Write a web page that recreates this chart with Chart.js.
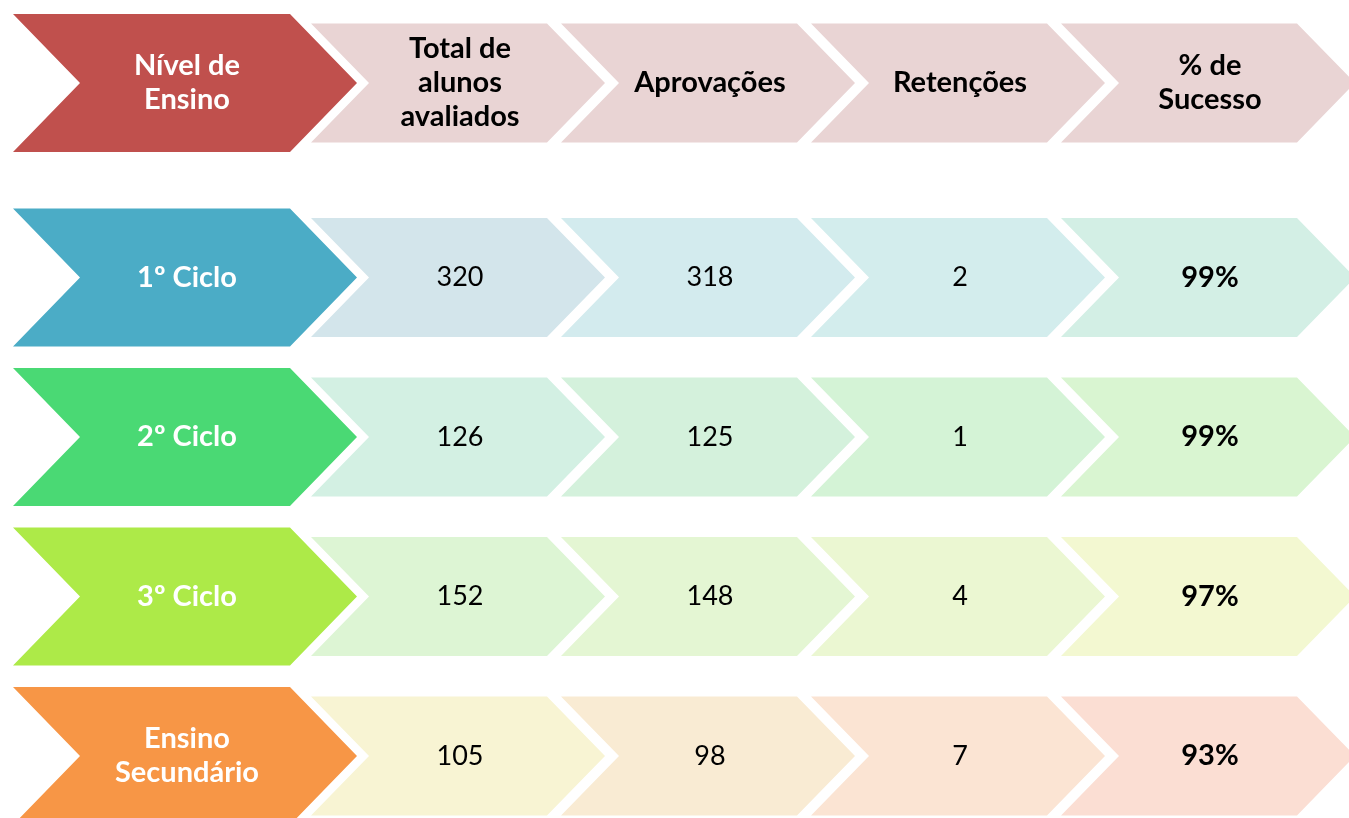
<!DOCTYPE html>
<html>
<head>
<meta charset="utf-8">
<script src="https://cdn.jsdelivr.net/npm/chart.js@4/dist/chart.umd.min.js"></script>
<style>
  html, body { margin: 0; padding: 0; background: #fff; }
  #wrap { width: 1349px; height: 818px; }
</style>
</head>
<body>
<div id="wrap"><canvas id="chevrons" width="1349" height="818"></canvas></div>
<script>
// Cabeçalhos das colunas (cada entrada = linhas de texto)
const headers = [
    ['Nível de', 'Ensino'],
    ['Total de', 'alunos', 'avaliados'],
    ['Aprovações'],
    ['Retenções'],
    ['% de', 'Sucesso']
];

// Níveis de ensino
const levels = [['1º Ciclo'], ['2º Ciclo'], ['3º Ciclo'], ['Ensino', 'Secundário']];

// Valores
const totals = [320, 126, 152, 105];
const approvals = [318, 125, 148, 98];
const retentions = [2, 1, 4, 7];
const successRate = [99, 99, 97, 93];

// Cores
const headerColor = '#C0504D';
const headerCellColor = '#E9D4D4';
const levelColors = ['#4BACC6', '#4AD974', '#ADEA48', '#F79646'];
const cellColors = [
    ['#D3E5EB', '#D3EBEE', '#D3EDED', '#D3EFE5'],
    ['#D3F0E3', '#D4F1DC', '#D4F3D6', '#D9F5D1'],
    ['#DDF5D4', '#E4F6D3', '#EBF7D2', '#F3F8D1'],
    ['#F8F4D3', '#F9EBD3', '#FBE4D3', '#FBDED3']
];

// Construção dos datasets: linha 0 = cabeçalho, linhas 1..4 = níveis
function buildDatasets() {
    const rows = [];
    rows.push({
        label: 'header',
        data: headers.map((h, c) => ({ x: c, y: 0, lines: h })),
        colors: [headerColor, headerCellColor, headerCellColor, headerCellColor, headerCellColor],
        header: true
    });
    levels.forEach((lvl, r) => {
        const values = [
            lvl,
            [String(totals[r])],
            [String(approvals[r])],
            [String(retentions[r])],
            [successRate[r] + '%']
        ];
        rows.push({
            label: lvl.join(' '),
            data: values.map((v, c) => ({ x: c, y: r + 1, lines: v })),
            colors: [levelColors[r]].concat(cellColors[r]),
            header: false
        });
    });
    return rows.map(r => ({ ...r, pointRadius: 0, pointHoverRadius: 0, showLine: false }));
}

function chevronPath(ctx, left, right, top, bottom, depth) {
    const mid = (top + bottom) / 2;
    ctx.beginPath();
    ctx.moveTo(left, top);
    ctx.lineTo(right - depth, top);
    ctx.lineTo(right, mid);
    ctx.lineTo(right - depth, bottom);
    ctx.lineTo(left, bottom);
    ctx.lineTo(left + depth, mid);
    ctx.closePath();
}

// Plugin que desenha as setas e os textos
const chevronPlugin = {
    id: 'chevrons',
    afterDatasetsDraw(chart) {
        const ctx = chart.ctx;
        const xs = chart.scales.x;
        const ys = chart.scales.y;
        const px = xs.getPixelForValue(2) - xs.getPixelForValue(1);
        const py = ys.getPixelForValue(2) - ys.getPixelForValue(1);

        chart.data.datasets.forEach((ds, r) => {
            const meta = chart.getDatasetMeta(r);
            const shiftY = ds.header ? -0.22 * py : 0;
            meta.data.forEach((pt, c) => {
                const cy = pt.y + shiftY;
                let cx = pt.x;
                ctx.save();
                ctx.fillStyle = ds.colors[c];
                if (c === 0) {
                    cx = pt.x - 0.092 * px;
                    const hw = 0.688 * px;
                    const hh = 0.4326 * py;
                    chevronPath(ctx, cx - hw, cx + hw, cy - hh, cy + hh, 0.268 * px);
                } else {
                    const hh = 0.373 * py;
                    chevronPath(ctx, cx - 0.588 * px, cx + 0.588 * px, cy - hh, cy + hh, 0.232 * px);
                }
                ctx.fill();

                // texto
                const lines = ds.data[c].lines;
                const bold = ds.header || c === 0 || c === 4;
                ctx.fillStyle = (c === 0) ? '#FFFFFF' : '#000000';
                ctx.font = bold ? 'bold 29px Lato, "Open Sans", sans-serif' : '27px Lato, "Open Sans", sans-serif';
                ctx.textAlign = 'center';
                ctx.textBaseline = 'middle';
                const lh = 34;
                const tx = cx + 2;
                lines.forEach((line, i) => {
                    ctx.fillText(line, tx, cy + (i - (lines.length - 1) / 2) * lh);
                });
                ctx.restore();
            });
        });
    }
};

window.onload = () => {
    new Chart(document.getElementById('chevrons').getContext('2d'), {
        type: 'scatter',
        data: { datasets: buildDatasets() },
        options: {
            responsive: false,
            animation: false,
            layout: { padding: 0 },
            plugins: { legend: { display: false }, tooltip: { enabled: false } },
            events: [],
            scales: {
                x: { type: 'linear', display: false, min: -0.832, max: 4.564 },
                y: { type: 'linear', display: false, reverse: true, min: -0.740, max: 4.389 }
            }
        },
        plugins: [chevronPlugin]
    });
};
</script>
</body>
</html>
